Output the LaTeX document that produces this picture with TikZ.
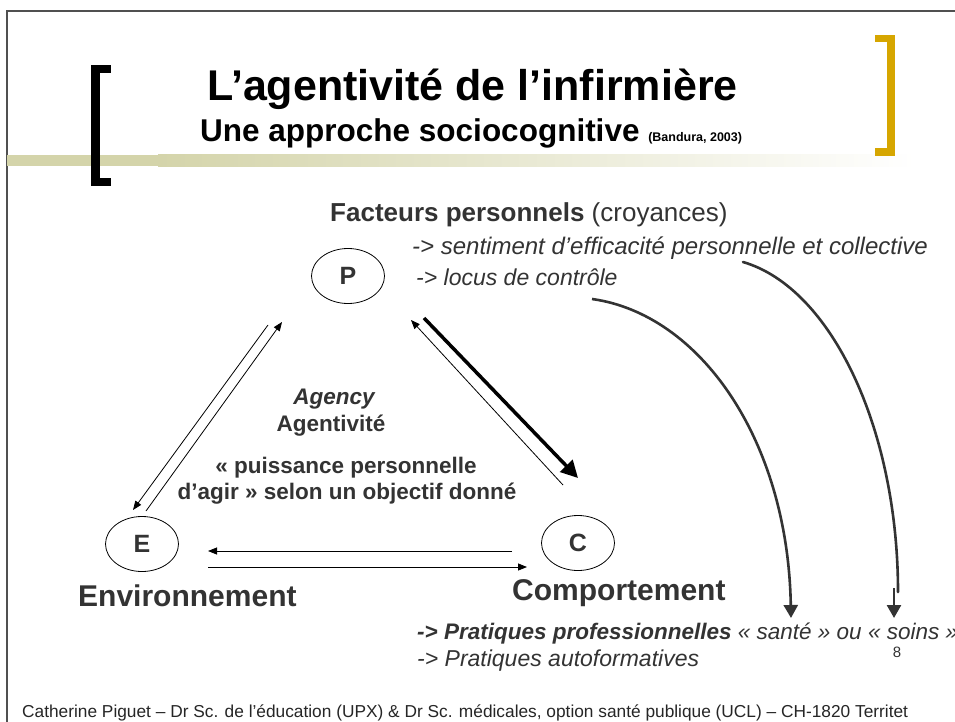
\documentclass[tikz,border=0pt]{standalone}
\usepackage{fontspec}
\setmainfont{Liberation Sans}
\usetikzlibrary{arrows.meta,shapes.geometric}
\definecolor{txt}{RGB}{51,51,51}
\definecolor{gold}{RGB}{214,166,0}
\definecolor{band}{RGB}{212,212,170}
\definecolor{frame}{RGB}{80,80,80}
\newcommand{\fsz}[1]{\fontsize{#1}{#1}\selectfont}
\tikzset{
  letter/.style={ellipse, draw=black, line width=0.8pt, minimum width=73pt, minimum height=55pt, inner sep=0pt, text=txt, font=\fsz{25}\bfseries},
  lbl/.style={inner sep=0pt, text=txt},
  thinarrow/.style={line width=0.8pt, -{Triangle[length=9pt,width=7pt]}},
  thickarrow/.style={line width=3.5pt, -{Triangle[length=17pt,width=17pt]}},
  curvearrow/.style={line width=2.6pt, draw=txt, line cap=round},
  headarrow/.style={line width=2.6pt, draw=txt, -{Triangle[length=13pt,width=14pt]}}
}
\begin{document}
\begin{tikzpicture}[x=1pt,y=-1pt]
\useasboundingbox (0,0) rectangle (955,722);
\fill[white] (0,0) rectangle (955,722);
% frame
\draw[frame, line width=1.2pt] (7,722) -- (7,11) -- (955,11);
% band
\fill[band] (7,155) rectangle (158,166);
\shade[left color=band, right color=white] (158,155) rectangle (915,167);
% brackets
\fill[black] (91,65) rectangle (111,73);
\fill[black] (91,65) rectangle (100,186);
\fill[black] (91,178) rectangle (111,186);
\fill[gold] (875,35) rectangle (895,42);
\fill[gold] (887,35) rectangle (895,156);
\fill[gold] (875,148) rectangle (895,156);
% titles
\node[inner sep=0pt, anchor=base west, font=\fsz{43}\bfseries] (title) at (207,101) {L’agentivité de l’infirmière};
\node[inner sep=0pt, anchor=base west, font=\fsz{31.5}\bfseries] (subtitle) at (200,142) {Une approche sociocognitive {\fsz{12.5}(Bandura, 2003)}};
% top texts
\node[lbl, anchor=base west, font=\fsz{26}] (fp) at (330,222) {\textbf{Facteurs personnels} (croyances)};
\node[lbl, anchor=base west, font=\fsz{24}\itshape] (sent) at (412,254) {-> sentiment d’efficacité personnelle et collective};
\node[lbl, anchor=base west, font=\fsz{23}\itshape] (locus) at (416,285) { -> locus de contrôle};
% nodes
\node[letter] (P) at (348,276) {P};
\node[letter] (E) at (142,544) {E};
\node[letter] (C) at (578,543) {C};
\node[lbl, anchor=base west, font=\fsz{30}\bfseries] (env) at (78,606) {Environnement};
\node[lbl, anchor=base west, font=\fsz{30}\bfseries] (comp) at (512,600) {Comportement};
% center texts
\node[lbl, anchor=base, font=\fsz{22.5}\bfseries\itshape] (agency) at (334,404) {Agency};
\node[lbl, anchor=base, font=\fsz{22.5}\bfseries] (agentiv) at (331,431) {Agentivité};
\node[lbl, anchor=base, font=\fsz{22.5}\bfseries] (puiss1) at (346,473) {« puissance personnelle};
\node[lbl, anchor=base, font=\fsz{22.5}\bfseries] (puiss2) at (347,499) {d’agir » selon un objectif donné};
% bottom texts
\node[lbl, anchor=base west, font=\fsz{22.5}\itshape] (prat1) at (417,639) {\textbf{-> Pratiques professionnelles} « santé » ou « soins »};
\node[lbl, anchor=base west, font=\fsz{23}\itshape] (prat2) at (417,666) {-> Pratiques autoformatives};
\node[lbl, anchor=base, font=\fsz{15}] (num) at (897,657) {8};
\node[lbl, anchor=base west, font=\fsz{17.3}, text=black!85] (foot) at (22,717) {Catherine Piguet – Dr Sc. de l’éducation (UPX) \& Dr Sc. médicales, option santé publique (UCL) – CH-1820 Territet};
% arrow end coordinates
\coordinate (pe1) at (268,325); \coordinate (ep1) at (133,510);
\coordinate (ep2) at (146,511); \coordinate (pe2) at (282,322);
\coordinate (cp1) at (563,485); \coordinate (pc1) at (411,320);
\coordinate (pc2) at (424,318); \coordinate (cp2) at (578,478);
\coordinate (ce1) at (512,551); \coordinate (ec1) at (208,551);
\coordinate (ec2) at (208,567); \coordinate (ce2) at (527,567);
\draw[thinarrow] (pe1) -- (ep1);
\draw[thinarrow] (ep2) -- (pe2);
\draw[thinarrow] (cp1) -- (pc1);
\draw[thickarrow] (pc2) -- (cp2);
\draw[thinarrow] (ce1) -- (ec1);
\draw[thinarrow] (ec2) -- (ce2);
% curved arrows
\coordinate (l1) at (592,299); \coordinate (t1) at (791,618);
\draw[headarrow] (l1) .. controls (700,314) and (788,440) .. (t1);
\coordinate (l2) at (743,262); \coordinate (m2) at (898,592);
\draw[curvearrow] (l2) .. controls (832,288) and (898,430) .. (m2);
\coordinate (a2) at (894,588); \coordinate (t2) at (894,618);
\draw[headarrow] (a2) -- (t2);
\end{tikzpicture}
\end{document}
